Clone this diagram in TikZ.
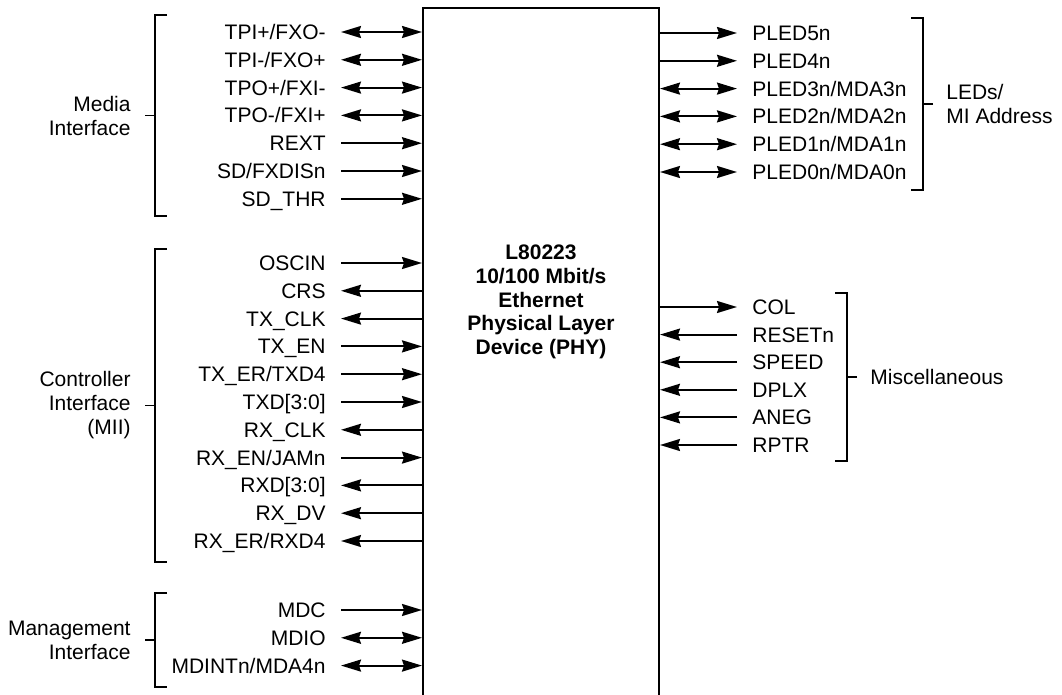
\documentclass[tikz,border=0pt]{standalone}
\usepackage{fontspec}
\setmainfont{Liberation Sans}
\usetikzlibrary{arrows.meta}

\begin{document}
\begin{tikzpicture}[
  x=.5pt,y=-.5pt,
  font=\fontsize{10.5}{12}\selectfont,
  >={Stealth[length=10pt,width=6pt,inset=1pt]},
  wire/.style={line width=1pt},
  brk/.style={line width=.8pt},
  chip/.style={draw,line width=1pt,minimum width=118pt,minimum height=370pt,inner sep=0pt},
  chip label/.style={font=\fontsize{10.5}{11.9}\selectfont\bfseries,align=center},
  lpin/.style={anchor=east,inner xsep=7.5pt,inner ysep=0pt,text height=7.5pt,text depth=0pt},
  rpin/.style={lpin,anchor=west},
  lgroup/.style={anchor=east,align=right,inner xsep=7pt,inner ysep=0pt},
  rgroup/.style={anchor=west,align=left,inner xsep=6.5pt,inner ysep=0pt}
]
\useasboundingbox (0,0) rectangle (1062,695);
\clip (0,0) rectangle (1062,695);
\node[chip,anchor=north] (phy) at (541,7) {};
\node[chip label] (phytext) at (541,302) {L80223\\10/100 Mbit/s\\Ethernet\\Physical Layer\\Device (PHY)};
% media interface
\node[lpin] (tpip) at (341,32) {TPI+/FXO-};
\node[lpin] (tpim) at (341,59.8) {TPI-/FXO+};
\node[lpin] (tpop) at (341,87.6) {TPO+/FXI-};
\node[lpin] (tpom) at (341,115.4) {TPO-/FXI+};
\node[lpin] (rext) at (341,143.2) {REXT};
\node[lpin] (sdfxdis) at (341,171) {SD/FXDISn};
\node[lpin] (sdthr) at (341,198.8) {SD\_THR};
% controller interface
\node[lpin] (oscin) at (341,263) {OSCIN};
\node[lpin] (crs) at (341,290.8) {CRS};
\node[lpin] (txclk) at (341,318.6) {TX\_CLK};
\node[lpin] (txen) at (341,346.4) {TX\_EN};
\node[lpin] (txer) at (341,374.2) {TX\_ER/TXD4};
\node[lpin] (txd) at (341,402) {TXD[3:0]};
\node[lpin] (rxclk) at (341,429.8) {RX\_CLK};
\node[lpin] (rxen) at (341,457.6) {RX\_EN/JAMn};
\node[lpin] (rxd) at (341,485.4) {RXD[3:0]};
\node[lpin] (rxdv) at (341,513.2) {RX\_DV};
\node[lpin] (rxer) at (341,541) {RX\_ER/RXD4};
% management interface
\node[lpin] (mdc) at (341,610) {MDC};
\node[lpin] (mdio) at (341,637.8) {MDIO};
\node[lpin] (mdint) at (341,665.6) {MDINTn/MDA4n};
% leds
\node[rpin] (pled5) at (737,33) {PLED5n};
\node[rpin] (pled4) at (737,60.8) {PLED4n};
\node[rpin] (pled3) at (737,88.6) {PLED3n/MDA3n};
\node[rpin] (pled2) at (737,116.4) {PLED2n/MDA2n};
\node[rpin] (pled1) at (737,144.2) {PLED1n/MDA1n};
\node[rpin] (pled0) at (737,172) {PLED0n/MDA0n};
% miscellaneous
\node[rpin] (col) at (737,307) {COL};
\node[rpin] (resetn) at (737,334.6) {RESETn};
\node[rpin] (speed) at (737,362.2) {SPEED};
\node[rpin] (dplx) at (737,389.8) {DPLX};
\node[rpin] (aneg) at (737,417.4) {ANEG};
\node[rpin] (rptr) at (737,445) {RPTR};
% groups
\node[lgroup] (media) at (145,115.5) {Media\\Interface};
\node[lgroup] (ctrl) at (145,405.5) {Controller\\Interface\\(MII)};
\node[lgroup] (mgmt) at (145,640) {Management\\Interface};
\node[rgroup] (leds) at (933,104) {LEDs/\\MI Address};
\node[rgroup] (misc) at (857,377) {Miscellaneous};
\coordinate (mediatop) at (155,15);
\coordinate (mediabot) at (155,216);
\coordinate (ctrltop) at (155,249);
\coordinate (ctrlbot) at (155,562);
\coordinate (mgmttop) at (155,593);
\coordinate (mgmtbot) at (155,687);
\coordinate (ledstop) at (923,18);
\coordinate (ledsbot) at (923,190);
\coordinate (misctop) at (847,293);
\coordinate (miscbot) at (847,461);
\draw[wire,<->] (tpip.east) -- (tpip.east -| phy.west);
\draw[wire,<->] (tpim.east) -- (tpim.east -| phy.west);
\draw[wire,<->] (tpop.east) -- (tpop.east -| phy.west);
\draw[wire,<->] (tpom.east) -- (tpom.east -| phy.west);
\draw[wire,->] (rext.east) -- (rext.east -| phy.west);
\draw[wire,->] (sdfxdis.east) -- (sdfxdis.east -| phy.west);
\draw[wire,->] (sdthr.east) -- (sdthr.east -| phy.west);
\draw[wire,->] (oscin.east) -- (oscin.east -| phy.west);
\draw[wire,<-] (crs.east) -- (crs.east -| phy.west);
\draw[wire,<-] (txclk.east) -- (txclk.east -| phy.west);
\draw[wire,->] (txen.east) -- (txen.east -| phy.west);
\draw[wire,->] (txer.east) -- (txer.east -| phy.west);
\draw[wire,->] (txd.east) -- (txd.east -| phy.west);
\draw[wire,<-] (rxclk.east) -- (rxclk.east -| phy.west);
\draw[wire,->] (rxen.east) -- (rxen.east -| phy.west);
\draw[wire,<-] (rxd.east) -- (rxd.east -| phy.west);
\draw[wire,<-] (rxdv.east) -- (rxdv.east -| phy.west);
\draw[wire,<-] (rxer.east) -- (rxer.east -| phy.west);
\draw[wire,->] (mdc.east) -- (mdc.east -| phy.west);
\draw[wire,<->] (mdio.east) -- (mdio.east -| phy.west);
\draw[wire,<->] (mdint.east) -- (mdint.east -| phy.west);
\draw[wire,<-] (pled5.west) -- (pled5.west -| phy.east);
\draw[wire,<-] (pled4.west) -- (pled4.west -| phy.east);
\draw[wire,<->] (pled3.west) -- (pled3.west -| phy.east);
\draw[wire,<->] (pled2.west) -- (pled2.west -| phy.east);
\draw[wire,<->] (pled1.west) -- (pled1.west -| phy.east);
\draw[wire,<->] (pled0.west) -- (pled0.west -| phy.east);
\draw[wire,<-] (col.west) -- (col.west -| phy.east);
\draw[wire,->] (resetn.west) -- (resetn.west -| phy.east);
\draw[wire,->] (speed.west) -- (speed.west -| phy.east);
\draw[wire,->] (dplx.west) -- (dplx.west -| phy.east);
\draw[wire,->] (aneg.west) -- (aneg.west -| phy.east);
\draw[wire,->] (rptr.west) -- (rptr.west -| phy.east);
% brackets
\draw[brk] ([xshift=6pt]mediatop) -- (mediatop) -- (mediabot) -- ([xshift=6pt]mediabot);
\draw[brk] (media.east) -- (media.east -| mediatop);
\draw[brk] ([xshift=6pt]ctrltop) -- (ctrltop) -- (ctrlbot) -- ([xshift=6pt]ctrlbot);
\draw[brk] (ctrl.east) -- (ctrl.east -| ctrltop);
\draw[brk] ([xshift=6pt]mgmttop) -- (mgmttop) -- (mgmtbot) -- ([xshift=6pt]mgmtbot);
\draw[brk] (mgmt.east) -- (mgmt.east -| mgmttop);
\draw[brk] ([xshift=-6pt]ledstop) -- (ledstop) -- (ledsbot) -- ([xshift=-6pt]ledsbot);
\draw[brk] (leds.west) -- (leds.west -| ledstop);
\draw[brk] ([xshift=-6pt]misctop) -- (misctop) -- (miscbot) -- ([xshift=-6pt]miscbot);
\draw[brk] (misc.west) -- (misc.west -| misctop);
\end{tikzpicture}
\end{document}
